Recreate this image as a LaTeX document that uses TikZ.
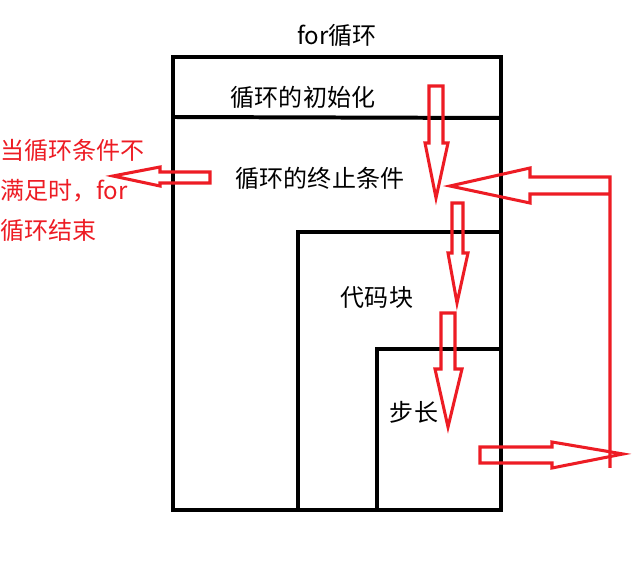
\documentclass[tikz,border=0pt]{standalone}
\usepackage{fontspec}
\setmainfont{Noto Sans CJK SC}
\usetikzlibrary{positioning}
\definecolor{paintred}{RGB}{237,28,36}

\begin{document}
\begin{tikzpicture}[x=0.03cm,y=-0.03cm,
    frame/.style={line width=3.4pt,black},
    hollow/.style={paintred,line width=2.6pt,line join=miter},
    label/.style={font=\fontsize{20.5}{24}\selectfont,inner sep=0pt}]
  \useasboundingbox (0,0) rectangle (637,570);
  % the boxes
  \draw[frame] (173,57) rectangle (501,510);
  \draw[frame] (173,117) -- (501,118);
  \draw[frame] (298,510) -- (298,232) -- (501,232);
  \draw[frame] (377,510) -- (377,349) -- (501,349);
  % texts
  \node[label] (title) at (337,35) {for循环};
  \node[label] (init) at (303,97) {循环的初始化};
  \node[label] (cond) at (320,178) {循环的终止条件};
  \node[label] (body) at (377,298) {代码块};
  \node[label] (stepsize) at (414,412) {步长};
  \node[label,paintred,align=left,anchor=north west,
    font=\fontsize{20.5}{34}\selectfont] (exit) at (0,139)
    {当循环条件不\\满足时，for\\循环结束};
  % hollow arrows
  \draw[hollow] (429,86) -- (443,86) -- (443,143) -- (448,143) -- (436,198)
    -- (425,143) -- (429,143) -- cycle;
  \draw[hollow] (452,203) -- (463,203) -- (463,253) -- (468,253) -- (457,303)
    -- (448,253) -- (452,253) -- cycle;
  \draw[hollow] (441,313) -- (455,313) -- (455,369) -- (462,369) -- (448,427)
    -- (435,369) -- (441,369) -- cycle;
  \draw[hollow] (480,447) -- (552,447) -- (552,442) -- (623,454) -- (552,468)
    -- (552,463) -- (480,463) -- cycle;
  \draw[hollow] (610,468) -- (610,177) -- (530,177) -- (530,168) -- (450,186)
    -- (530,203) -- (530,194) -- (610,194);
  \draw[hollow] (210,172) -- (160,172) -- (160,167) -- (113,176) -- (160,186)
    -- (160,183) -- (210,183) -- cycle;
\end{tikzpicture}
\end{document}
